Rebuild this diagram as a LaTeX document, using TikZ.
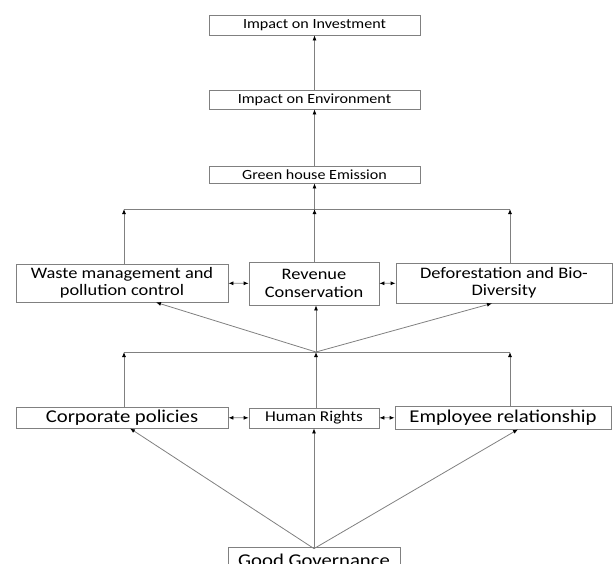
\documentclass[tikz,border=0pt]{standalone}
\usepackage{fontspec}
\setmainfont[FakeStretch=1.15]{Carlito}
\usetikzlibrary{arrows.meta,calc}
\definecolor{linegray}{RGB}{128,128,128}
\begin{document}
\begin{tikzpicture}[x=1pt,y=-1pt,
  box/.style={draw=linegray, line width=0.8pt, inner sep=0pt, align=center, text=black},
  arr/.style={draw=linegray, line width=0.8pt, -{Latex[black,length=5pt,width=4pt]}},
  biarr/.style={draw=linegray, line width=0.8pt, {Latex[black,length=5pt,width=4pt]}-{Latex[black,length=5pt,width=4pt]}},
  bar/.style={draw=linegray, line width=0.8pt}]
\useasboundingbox (0,0) rectangle (613,563);
\node[box, minimum width=211pt, minimum height=20pt, font=\fontsize{14}{16}\selectfont] (invest) at (314.5,25) {Impact on Investment};
\node[box, minimum width=211pt, minimum height=19pt, font=\fontsize{14}{16}\selectfont] (environ) at (314.5,99.5) {Impact on Environment};
\node[box, minimum width=211pt, minimum height=17pt, font=\fontsize{14}{16}\selectfont] (emission) at (314.5,174.5) {Green house Emission};
\node[box, minimum width=212pt, minimum height=38pt, font=\fontsize{16}{17}\selectfont] (waste) at (122,283) {Waste management and\\pollution control};
\node[box, minimum width=130pt, minimum height=43pt, font=\fontsize{16}{18.5}\selectfont] (revenue) at (314,283.5) {Revenue\\Conservation};
\node[box, minimum width=216pt, minimum height=40pt, font=\fontsize{16}{17}\selectfont] (forest) at (504,283) {Deforestation and Bio-\\Diversity};
\node[box, minimum width=212pt, minimum height=21pt, font=\fontsize{18}{20}\selectfont] (corporate) at (122,417.5) {Corporate policies};
\node[box, minimum width=130pt, minimum height=20pt, font=\fontsize{15}{17}\selectfont] (rights) at (314,418) {Human Rights};
\node[box, minimum width=216pt, minimum height=23pt, font=\fontsize{18}{20}\selectfont] (employee) at (503,417.5) {Employee relationship};
\node[box, minimum width=172pt, minimum height=26pt, font=\fontsize{18}{20}\selectfont] (governance) at (314,560) {Good Governance};
\coordinate (topbar) at (314.5,209);
\coordinate (midbar) at (316,352);
% upper part
\draw[arr] (environ) -- (invest);
\draw[arr] (emission) -- (environ);
\draw[arr] (topbar) -- (emission);
\draw[bar] ([xshift=2pt]waste.north |- topbar) -- ([xshift=6pt]forest.north |- topbar);
\draw[arr] ([xshift=2pt]waste.north) -- ([xshift=2pt]waste.north |- topbar);
\draw[arr] (revenue.north -| topbar) -- (topbar);
\draw[arr] ([xshift=6pt]forest.north) -- ([xshift=6pt]forest.north |- topbar);
\draw[biarr] (waste) -- (revenue);
\draw[biarr] (revenue) -- (forest);
% middle part
\draw[arr] (midbar) -- ([xshift=34pt]waste.south);
\draw[arr] (midbar) -- (revenue.south -| midbar);
\draw[arr] (midbar) -- ([xshift=-12pt]forest.south);
\draw[bar] ([xshift=2pt]corporate.north |- midbar) -- ([xshift=7pt]employee.north |- midbar);
\draw[arr] ([xshift=2pt]corporate.north) -- ([xshift=2pt]corporate.north |- midbar);
\draw[arr] (rights.north -| midbar) -- (midbar);
\draw[arr] ([xshift=7pt]employee.north) -- ([xshift=7pt]employee.north |- midbar);
\draw[biarr] (corporate) -- (rights);
\draw[biarr] (rights) -- (employee);
% lower part
\draw[arr] ([yshift=-2pt]governance.north) -- ([xshift=8pt]corporate.south);
\draw[arr] ([yshift=-2pt]governance.north) -- (rights.south);
\draw[arr] ([yshift=-2pt]governance.north) -- ([xshift=15pt]employee.south);
\end{tikzpicture}
\end{document}
